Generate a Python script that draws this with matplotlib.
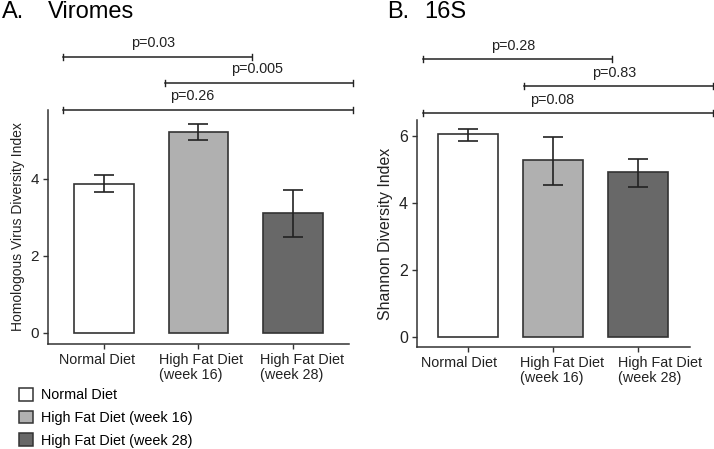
import matplotlib
matplotlib.use('Agg')
import matplotlib.pyplot as plt
from matplotlib.patches import Patch
from matplotlib.transforms import ScaledTranslation

plt.rcParams['font.family'] = ['Liberation Sans', 'DejaVu Sans']

# dane
grupy = ['Normal Diet', 'High Fat Diet\n(week 16)', 'High Fat Diet\n(week 28)']
legenda = ['Normal Diet', 'High Fat Diet (week 16)', 'High Fat Diet (week 28)']
kolory = ['#ffffff', '#b0b0b0', '#686868']

wiromy = [3.88, 5.22, 3.11]
wiromy_dol = [3.66, 5.01, 2.49]
wiromy_gora = [4.10, 5.43, 3.71]

s16 = [6.05, 5.28, 4.93]
s16_dol = [5.85, 4.54, 4.48]
s16_gora = [6.22, 5.97, 5.32]

# nawiasy istotnosci: (x od, x do, y linii, tekst, x tekstu, y tekstu)
nawiasy_a = [(-0.43, 1.57, 7.17, 'p=0.03', 0.52, 7.53),
             (0.65, 2.63, 6.49, 'p=0.005', 1.62, 6.85),
             (-0.43, 2.63, 5.79, 'p=0.26', 0.93, 6.15)]
nawiasy_b = [(-0.53, 1.69, 8.30, 'p=0.28', 0.53, 8.70),
             (0.66, 2.88, 7.49, 'p=0.83', 1.72, 7.89),
             (-0.53, 2.88, 6.69, 'p=0.08', 0.99, 7.09)]

# przesuniecia podpisow osi x (piksele), tak jak w oryginale
przes_a = [-7, 3, 9]
przes_b = [-9, 9, 22]

ciemny = '#222222'

fig = plt.figure(figsize=(7.14, 4.49), dpi=100)
ax_a = fig.add_axes([0.0672, 0.2339, 0.4216, 0.5211])
ax_b = fig.add_axes([0.584, 0.2272, 0.3824, 0.5055])


def rysuj(ax, wartosci, dol, gora, szer, nawiasy, ylim, xlim, etykieta, yticks, rozm_y, rozm_lab, przes):
    x = list(range(len(wartosci)))
    err = [[w - d for w, d in zip(wartosci, dol)], [g - w for w, g in zip(wartosci, gora)]]
    ax.bar(x, wartosci, width=szer, color=kolory, edgecolor='#333333', linewidth=1.2, zorder=2)
    ax.errorbar(x, wartosci, yerr=err, fmt='none', ecolor=ciemny, elinewidth=1.2,
                capsize=7, capthick=1.2, zorder=3)
    ax.set_xlim(*xlim)
    ax.set_ylim(*ylim)
    ax.set_xticks(x)
    ax.tick_params(axis='x', labelbottom=False)
    # podpisy kategorii rysowane recznie, zeby dalo sie je przesunac
    for xi, nazwa, dx in zip(x, grupy, przes):
        tr = ax.get_xaxis_transform() + ScaledTranslation(dx / 100, -0.09, fig.dpi_scale_trans)
        ax.text(xi, 0, nazwa, transform=tr, ha='center', va='top', multialignment='left',
                fontsize=10.4, color=ciemny, linespacing=1.05)
    ax.set_yticks(yticks)
    ax.tick_params(axis='both', length=3.5, width=1, color='#333333', labelcolor=ciemny, pad=3)
    ax.tick_params(axis='y', labelsize=rozm_y)
    ax.set_ylabel(etykieta, fontsize=rozm_lab, color=ciemny, labelpad=4)
    for s in ['top', 'right']:
        ax.spines[s].set_visible(False)
    for s in ['left', 'bottom']:
        ax.spines[s].set_color('#333333')
        ax.spines[s].set_linewidth(1.1)
    cap = (ylim[1] - ylim[0]) * 0.012
    for x0, x1, y, tekst, tx, ty in nawiasy:
        ax.plot([x0, x1], [y, y], color=ciemny, lw=1.1, clip_on=False)
        ax.plot([x0, x0], [y - cap, y + cap], color=ciemny, lw=1, clip_on=False)
        ax.plot([x1, x1], [y - cap, y + cap], color=ciemny, lw=1, clip_on=False)
        ax.text(tx, ty, tekst, ha='center', va='center', fontsize=10.4, color=ciemny, clip_on=False)


rysuj(ax_a, wiromy, wiromy_dol, wiromy_gora, 0.63, nawiasy_a, (-0.29, 5.79), (-0.59, 2.59),
      'Homologous Virus Diversity Index', [0, 2, 4], 11, 10, przes_a)
rysuj(ax_b, s16, s16_dol, s16_gora, 0.70, nawiasy_b, (-0.30, 6.48), (-0.60, 2.61),
      'Shannon Diversity Index', [0, 2, 4, 6], 11.5, 11.4, przes_b)

# tytuly paneli
fig.text(2 / 714, 1 - 12 / 449, 'A.', fontsize=17, va='center', ha='left', color='black')
fig.text(48 / 714, 1 - 12 / 449, 'Viromes', fontsize=17, va='center', ha='left', color='black')
fig.text(387 / 714, 1 - 12 / 449, 'B.', fontsize=17, va='center', ha='left', color='black')
fig.text(424 / 714, 1 - 12 / 449, '16S', fontsize=17, va='center', ha='left', color='black')

uchwyty = [Patch(facecolor=k, edgecolor='#333333', linewidth=1.1) for k in kolory]
fig.legend(uchwyty, legenda, loc='upper left', bbox_to_anchor=(0.022, 1 - 385 / 449),
           frameon=False, fontsize=10.4, handlelength=0.98, handleheight=0.98,
           handletextpad=0.6, labelspacing=0.58, borderaxespad=0, borderpad=0.2)

fig.savefig('out.png', dpi=100)
